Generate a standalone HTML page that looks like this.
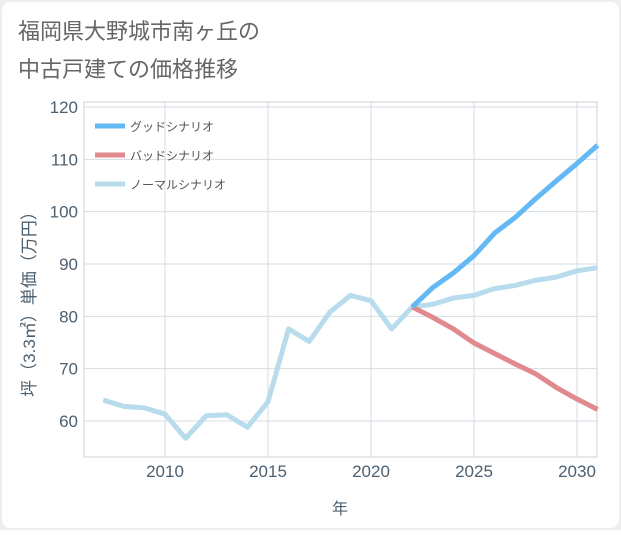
<!DOCTYPE html>
<html><head><meta charset="utf-8"><style>
body{margin:0;background:#fff;}
svg text{font-family:"Liberation Sans","Noto Sans CJK JP",sans-serif;}
</style></head><body>
<svg width="621" height="530" xmlns="http://www.w3.org/2000/svg">
<rect x="0" y="0" width="621" height="530" fill="#eeeeee"/>
<rect x="2" y="2" width="617" height="526" rx="8" fill="#ffffff"/>
<text x="18" y="39" font-size="22" fill="#666">福岡県大野城市南ヶ丘の</text>
<text x="18" y="77" font-size="22" fill="#666">中古戸建ての価格推移</text>
<g id="grid"></g>
<rect x="84" y="102" width="513" height="355" fill="none" stroke="#c8d3dc"/>
<g id="yt"></g>
<g id="xt"></g>
<text x="340" y="514" font-size="16" fill="#4d6070" text-anchor="middle">年</text>
<text transform="translate(35,300) rotate(-90)" font-size="17" fill="#4d6070" text-anchor="middle">坪（3.3㎡）単価（万円）</text>
<g id="lines"></g>
<g>
<line x1="95" y1="126" x2="125" y2="126" stroke="#64b8f4" stroke-width="5"/>
<text x="130" y="131" font-size="12" fill="#555">グッドシナリオ</text>
<line x1="95" y1="155" x2="125" y2="155" stroke="#e08a8e" stroke-width="5"/>
<text x="130" y="160" font-size="12" fill="#555">バッドシナリオ</text>
<line x1="95" y1="184" x2="125" y2="184" stroke="#b8dcec" stroke-width="5"/>
<text x="130" y="189" font-size="12" fill="#555">ノーマルシナリオ</text>
</g>
</svg>
<script>
const yTicks=[60,70,80,90,100,110,120];
const xTicks=[2010,2015,2020,2025,2030];
const normalYears=[2007,2008,2009,2010,2011,2012,2013,2014,2015,2016,2017,2018,2019,2020,2021,2022,2023,2024,2025,2026,2027,2028,2029,2030,2031];
const normalVals=[64,62.8,62.5,61.3,56.7,61,61.2,58.8,63.7,77.6,75.2,80.8,84,83,77.6,81.8,82.3,83.5,84,85.3,85.9,86.9,87.5,88.7,89.3];
const scenYears=[2022,2023,2024,2025,2026,2027,2028,2029,2030,2031];
const goodVals=[81.8,85.5,88.3,91.6,95.9,98.9,102.5,105.9,109.2,112.7];
const badVals=[81.8,79.8,77.6,74.9,72.9,70.9,69,66.4,64.2,62.2];
const NS='http://www.w3.org/2000/svg';
const xs=y=>165+(y-2010)*20.6;
const ys=v=>421-(v-60)*5.233;
function mk(t,a,p){const e=document.createElementNS(NS,t);for(const k in a)e.setAttribute(k,a[k]);p.appendChild(e);return e;}
const grid=document.getElementById('grid'),yt=document.getElementById('yt'),xt=document.getElementById('xt'),lines=document.getElementById('lines');
yTicks.forEach(v=>{
 const l=mk('line',{x1:84,x2:597,y1:ys(v),y2:ys(v),stroke:'#d5dee5'},grid);
 
 
 const t=mk('text',{x:78,y:ys(v)+6,'font-size':17,fill:'#4d6070','text-anchor':'end'},yt);t.textContent=v;
 
 
});
xTicks.forEach(v=>{
 const l=mk('line',{x1:xs(v),x2:xs(v),y1:102,y2:457,stroke:'#d5dee5'},grid);
 
 
 const t=mk('text',{x:xs(v),y:477,'font-size':17,fill:'#4d6070','text-anchor':'middle'},xt);t.textContent=v;
 
 
});
function line(yrs,vals,c,name){
 const p=mk('polyline',{points:yrs.map((y,i)=>xs(y)+','+ys(vals[i])).join(' '),fill:'none',stroke:c,'stroke-width':5,'stroke-linejoin':'round'},lines);
 
 
}
line(normalYears,normalVals,'#b8dcec','normal-line');
line(scenYears,badVals,'#e08a8e','bad-line');
line(scenYears,goodVals,'#64b8f4','good-line');
</script>
</body></html>
